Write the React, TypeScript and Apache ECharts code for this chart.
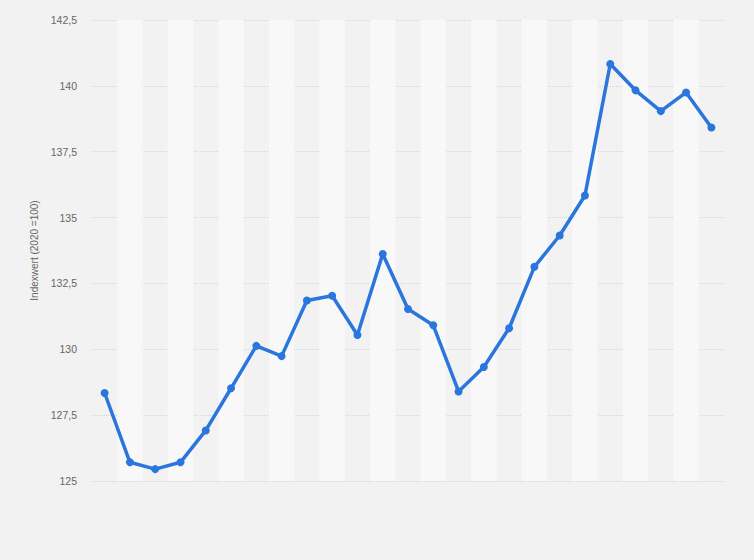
import React, { useEffect, useRef } from "react";
import * as echarts from "echarts";

const categories: string[] = [
  "1", "2", "3", "4", "5", "6", "7", "8", "9", "10", "11", "12", "13",
  "14", "15", "16", "17", "18", "19", "20", "21", "22", "23", "24", "25",
];

const indexValues: number[] = [
  128.34, 125.71, 125.45, 125.71, 126.92, 128.52, 130.13, 129.74, 131.85,
  132.03, 130.54, 133.62, 131.53, 130.91, 128.4, 129.33, 130.8, 133.13,
  134.32, 135.84, 140.83, 139.83, 139.04, 139.75, 138.42,
];

const yMin = 125;
const yMax = 142.5;
const yStep = 2.5;
const yAxisTitle = "Indexwert (2020 =100)";

export default function App() {
  const ref = useRef<HTMLDivElement>(null);

  useEffect(() => {
    if (!ref.current) return;
    const chart = echarts.init(ref.current, undefined, { renderer: "svg" });
    const font = "'Liberation Sans', Arial, Helvetica, sans-serif";
    chart.setOption({
      animation: false,
      backgroundColor: "#f2f2f2",
      textStyle: { fontFamily: font },
      grid: { left: 92, right: 30, top: 20, bottom: 79, containLabel: false },
      xAxis: {
        type: "category",
        data: categories,
        boundaryGap: true,
        axisLine: { show: false },
        axisTick: { show: false },
        axisLabel: { show: false },
        splitLine: { show: false },
        splitArea: {
          show: true,
          interval: 0,
          areaStyle: { color: ["rgba(0,0,0,0)", "#f8f8f8"] },
        },
      },
      yAxis: {
        type: "value",
        min: yMin,
        max: yMax,
        interval: yStep,
        name: yAxisTitle,
        nameLocation: "middle",
        nameGap: 52,
        nameTextStyle: { color: "#666666", fontSize: 10, fontFamily: font },
        axisLine: { show: false },
        axisTick: { show: false },
        axisLabel: {
          color: "#666666",
          fontSize: 10.5,
          margin: 15,
          fontFamily: font,
          formatter: (v: number) => String(v).replace(".", ","),
        },
        splitLine: {
          show: true,
          lineStyle: { color: "#d6d6d6", type: [1, 1], width: 1 },
        },
      },
      series: [
        {
          type: "line",
          data: indexValues,
          symbol: "circle",
          symbolSize: 8,
          lineStyle: { color: "#2a76dc", width: 3.5 },
          itemStyle: { color: "#2a76dc" },
          z: 3,
        },
      ],
    });
    return () => chart.dispose();
  }, []);

  return (
    <div
      ref={ref}
      style={{ position: "fixed", left: 0, top: 0, width: 754, height: 560 }}
    />
  );
}
